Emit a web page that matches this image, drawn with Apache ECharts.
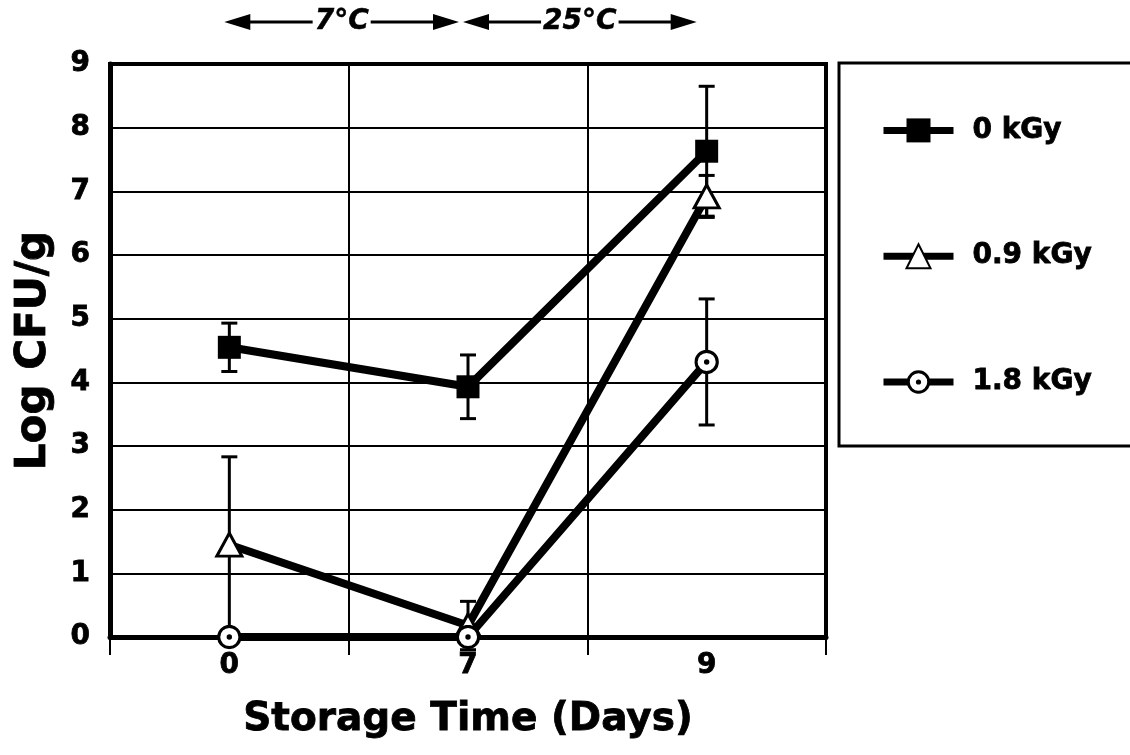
<!DOCTYPE html>
<html>
<head>
<meta charset="utf-8">
<script src="https://cdn.jsdelivr.net/npm/echarts@6/dist/echarts.min.js"></script>
<style>html,body{margin:0;padding:0;background:#fff}#c{width:1130px;height:755px}</style>
</head>
<body>
<div id="c"></div>
<script>
// ---- data ----
const days = ['0', '7', '9'];
const seriesNames = ['0 kGy', '0.9 kGy', '1.8 kGy'];
const kGy0 = [4.55, 3.93, 7.63];
const kGy0Err = [0.38, 0.50, 1.02];
const kGy09 = [1.45, 0.18, 6.92];
const kGy09Err = [1.38, 0.38, 0.33];
const kGy18 = [0, 0, 4.32];
const kGy18Err = [0, 0, 0.99];
const yTicks = [0, 1, 2, 3, 4, 5, 6, 7, 8, 9];
const tempLabels = ['7\u00B0C', '25\u00B0C'];

const FONT = 'DejaVu Sans';
const HEAVY = {textBorderColor: '#000', textBorderWidth: 0.8};
const ringSvg = "<svg xmlns='http://www.w3.org/2000/svg' width='24' height='24' viewBox='0 0 24 24'>" +
  "<circle cx='12' cy='12' r='10.2' fill='white' stroke='black' stroke-width='3'/>" +
  "<circle cx='12' cy='12' r='2.6' fill='black'/></svg>";
const ringSymbol = 'image://data:image/svg+xml;charset=utf-8,' + encodeURIComponent(ringSvg);

function errData(vals, errs) {
  return vals.map((v, i) => [i, v - errs[i], v + errs[i], errs[i]]);
}
const allErr = [].concat(errData(kGy0, kGy0Err), errData(kGy09, kGy09Err), errData(kGy18, kGy18Err));

const chart = echarts.init(document.getElementById('c'), null, {renderer: 'canvas'});
const option = {
  animation: false,
  backgroundColor: '#fff',
  grid: {left: 110, right: 304, top: 64, bottom: 118, show: true, borderColor: '#000', borderWidth: 4, backgroundColor: 'transparent'},
  legend: {
    orient: 'vertical', left: 875, top: 111, itemWidth: 70, itemHeight: 30, itemGap: 97,
    data: seriesNames,
    lineStyle: {width: 7, color: '#000'},
    textStyle: Object.assign({fontFamily: FONT, fontWeight: 'bold', fontSize: 28, color: '#000', padding: [0, 0, 0, 14]}, HEAVY),
    inactiveColor: '#000'
  },
  xAxis: {
    type: 'category', data: days, boundaryGap: true,
    name: 'Storage Time (Days)', nameLocation: 'middle', nameGap: 63,
    nameTextStyle: Object.assign({fontFamily: FONT, fontWeight: 'bold', fontSize: 39, color: '#000', verticalAlign: 'top'}, HEAVY),
    axisLine: {lineStyle: {color: '#000', width: 5}},
    axisTick: {show: true, length: 18, lineStyle: {color: '#000', width: 2}},
    axisLabel: Object.assign({fontFamily: FONT, fontWeight: 'bold', fontSize: 28, color: '#000', margin: 15}, HEAVY),
    splitLine: {show: true, lineStyle: {color: '#000', width: 2}}
  },
  yAxis: {
    type: 'value', min: 0, max: 9, interval: 1,
    name: 'Log CFU/g', nameLocation: 'middle', nameGap: 55,
    nameTextStyle: Object.assign({fontFamily: FONT, fontWeight: 'bold', fontSize: 42, color: '#000'}, HEAVY),
    axisLine: {show: true, lineStyle: {color: '#000', width: 5}},
    axisTick: {show: false},
    axisLabel: Object.assign({fontFamily: FONT, fontWeight: 'bold', fontSize: 28, color: '#000', margin: 20,
      formatter: v => yTicks.indexOf(v) >= 0 ? String(v) : ''}, HEAVY),
    splitLine: {show: true, lineStyle: {color: '#000', width: 2}}
  },
  series: [
    {
      type: 'custom', name: 'err', z: 1, silent: true, clip: false,
      data: allErr,
      renderItem: function (params, api) {
        if (api.value(3) === 0) return null;
        const lo = api.coord([api.value(0), api.value(1)]);
        const hi = api.coord([api.value(0), api.value(2)]);
        const hw = 8;
        const st = {stroke: '#000', lineWidth: 3};
        return {type: 'group', children: [
          {type: 'line', shape: {x1: lo[0], y1: lo[1], x2: hi[0], y2: hi[1]}, style: st},
          {type: 'line', shape: {x1: lo[0] - hw, y1: lo[1], x2: lo[0] + hw, y2: lo[1]}, style: st},
          {type: 'line', shape: {x1: hi[0] - hw, y1: hi[1], x2: hi[0] + hw, y2: hi[1]}, style: st}
        ]};
      }
    },
    {
      type: 'line', name: seriesNames[0], data: kGy0, z: 3,
      symbol: 'rect', symbolSize: 23,
      lineStyle: {color: '#000', width: 8},
      itemStyle: {color: '#000', borderColor: '#000', borderWidth: 0}
    },
    {
      type: 'line', name: seriesNames[1], data: kGy09, z: 3,
      symbol: 'triangle', symbolSize: [25, 23],
      lineStyle: {color: '#000', width: 8},
      itemStyle: {color: '#fff', borderColor: '#000', borderWidth: 3}
    },
    {
      type: 'line', name: seriesNames[2], data: kGy18, z: 3,
      symbol: ringSymbol, symbolSize: 25,
      lineStyle: {color: '#000', width: 8},
      itemStyle: {color: '#000', borderColor: '#000', borderWidth: 0}
    }
  ]
};
chart.setOption(option);

// temperature arrows above the plot, positioned from the category axis
function drawArrows() {
  const px = days.map(d => chart.convertToPixel({xAxisIndex: 0}, d));
  const y = 22;
  const spans = [[px[0] - 5, px[1] - 9], [px[1] - 5, px[2] - 10]];
  const els = [];
  spans.forEach((s, i) => {
    const a = s[0], b = s[1], L = 26, H = 8;
    els.push({type: 'line', shape: {x1: a + L - 2, y1: y, x2: b - L + 2, y2: y}, style: {stroke: '#000', lineWidth: 3}});
    els.push({type: 'polygon', shape: {points: [[a, y], [a + L, y - H], [a + L, y + H]]}, style: {fill: '#000'}});
    els.push({type: 'polygon', shape: {points: [[b, y], [b - L, y - H], [b - L, y + H]]}, style: {fill: '#000'}});
    els.push({type: 'text', x: (a + b) / 2, y: y, style: {
      text: tempLabels[i], fontFamily: FONT, fontWeight: 'bold', fontStyle: 'italic', fontSize: 28,
      fill: '#000', stroke: '#000', lineWidth: 0.5, align: 'center', verticalAlign: 'middle',
      backgroundColor: '#fff', padding: [0, 2]}});
  });
  // legend frame
  els.push({type: 'rect', shape: {x: 839, y: 63, width: 300, height: 383}, style: {fill: 'none', stroke: '#000', lineWidth: 3}, z: -1});
  chart.setOption({graphic: els});
}
drawArrows();
</script>
</body>
</html>
